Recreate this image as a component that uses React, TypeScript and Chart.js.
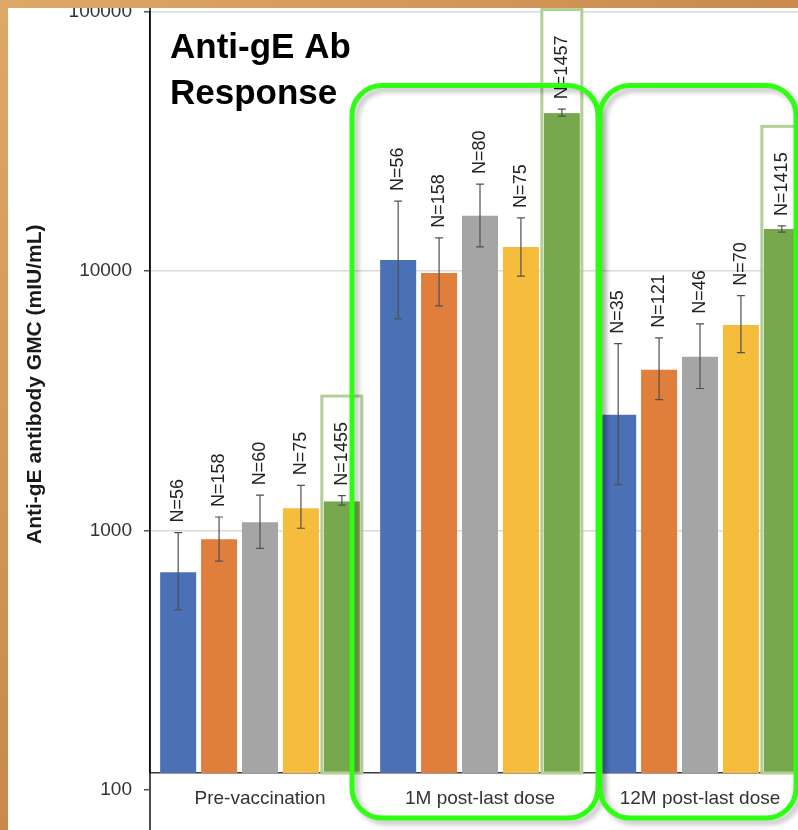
import { useEffect, useRef } from 'react';
import { Chart, registerables } from 'chart.js';

Chart.register(...registerables);

const FONT = '"Liberation Sans", Arial, Helvetica, sans-serif';

const categories = ['Pre-vaccination', '1M post-last dose', '12M post-last dose'];
const seriesNames = ['Group 1', 'Group 2', 'Group 3', 'Group 4', 'Group 5'];
const seriesColors = ['#4a70b6', '#e07e3c', '#a5a5a5', '#f5bd3b', '#78a84e'];

const gmcBlue = [689, 11020, 2790];
const gmcOrange = [923, 9820, 4160];
const gmcGray = [1073, 16300, 4670];
const gmcYellow = [1216, 12360, 6190];
const gmcGreen = [1294, 40550, 14520];

const ciLowBlue = [493, 6530, 1500];
const ciHighBlue = [980, 18580, 5240];
const ciLowOrange = [760, 7330, 3190];
const ciHighOrange = [1125, 13400, 5520];
const ciLowGray = [852, 12360, 3520];
const ciHighGray = [1365, 21600, 6250];
const ciLowYellow = [1018, 9550, 4840];
const ciHighYellow = [1490, 16000, 8020];
const ciLowGreen = [1250, 39500, 14100];
const ciHighGreen = [1360, 42000, 14900];

const nBlue = ['N=56', 'N=56', 'N=35'];
const nOrange = ['N=158', 'N=158', 'N=121'];
const nGray = ['N=60', 'N=80', 'N=46'];
const nYellow = ['N=75', 'N=75', 'N=70'];
const nGreen = ['N=1455', 'N=1457', 'N=1415'];

const yTickValues = [100, 1000, 10000, 100000];
const yTickLabels = ['100', '1000', '10000', '100000'];
const yMin = 116;
const yMax = 100000;
const yTitle = 'Anti-gE antibody GMC (mIU/mL)';
const chartTitle = ['Anti-gE Ab', 'Response'];
const highlightedCategories = [1, 2];

const seriesValues = [gmcBlue, gmcOrange, gmcGray, gmcYellow, gmcGreen];
const ciLow = [ciLowBlue, ciLowOrange, ciLowGray, ciLowYellow, ciLowGreen];
const ciHigh = [ciHighBlue, ciHighOrange, ciHighGray, ciHighYellow, ciHighGreen];
const nLabels = [nBlue, nOrange, nGray, nYellow, nGreen];

const overlayPlugin = {
  id: 'overlay',
  afterDatasetsDraw(chart: any) {
    const ctx = chart.ctx as CanvasRenderingContext2D;
    const ys = chart.scales.y;
    const xs = chart.scales.x;
    const area = chart.chartArea;
    const labelFont = `18px ${FONT}`;
    const gap = 10;

    // light-green highlight boxes around the last series
    const lastIdx = seriesValues.length - 1;
    const lastMeta = chart.getDatasetMeta(lastIdx);
    ctx.save();
    ctx.font = labelFont;
    lastMeta.data.forEach((bar: any, j: number) => {
      const w = bar.width;
      const left = bar.x - w / 2 - 2;
      const right = bar.x + w / 2 + 2;
      const errTop = ys.getPixelForValue(ciHigh[lastIdx][j]);
      const len = ctx.measureText(nLabels[lastIdx][j]).width;
      const boxTop = errTop - gap - len - 26;
      ctx.fillStyle = '#ffffff';
      ctx.fillRect(left, boxTop, right - left, bar.y - boxTop);
      ctx.strokeStyle = '#b2cf96';
      ctx.lineWidth = 3;
      ctx.strokeRect(left, boxTop, right - left, area.bottom - boxTop);
    });
    ctx.restore();

    // error bars
    ctx.save();
    ctx.strokeStyle = '#505050';
    ctx.lineWidth = 1.2;
    seriesValues.forEach((_, i) => {
      const meta = chart.getDatasetMeta(i);
      meta.data.forEach((bar: any, j: number) => {
        const yl = ys.getPixelForValue(ciLow[i][j]);
        const yh = ys.getPixelForValue(ciHigh[i][j]);
        const cap = 4;
        ctx.beginPath();
        ctx.moveTo(bar.x, yl);
        ctx.lineTo(bar.x, yh);
        ctx.moveTo(bar.x - cap, yl);
        ctx.lineTo(bar.x + cap, yl);
        ctx.moveTo(bar.x - cap, yh);
        ctx.lineTo(bar.x + cap, yh);
        ctx.stroke();
      });
    });
    ctx.restore();

    // N labels
    ctx.save();
    ctx.font = labelFont;
    ctx.fillStyle = '#222';
    ctx.textAlign = 'left';
    ctx.textBaseline = 'middle';
    seriesValues.forEach((_, i) => {
      const meta = chart.getDatasetMeta(i);
      meta.data.forEach((bar: any, j: number) => {
        const yh = ys.getPixelForValue(ciHigh[i][j]);
        ctx.save();
        ctx.translate(bar.x, yh - gap);
        ctx.rotate(-Math.PI / 2);
        ctx.fillText(nLabels[i][j], 0, 0);
        ctx.restore();
      });
    });
    ctx.restore();

    // bright green rounded frames
    ctx.save();
    const frames: Record<number, [number, number]> = { 1: [-128, 118], 2: [-100, 96] };
    highlightedCategories.forEach((c) => {
      const cx = xs.getPixelForValue(c);
      const [l, r] = frames[c];
      const x0 = cx + l;
      const x1 = cx + r;
      const y0 = area.top + 74;
      const y1 = area.bottom + 45;
      ctx.shadowColor = 'rgba(0,0,0,0.25)';
      ctx.shadowBlur = 5;
      ctx.shadowOffsetX = 4;
      ctx.shadowOffsetY = 4;
      ctx.strokeStyle = '#2cff10';
      ctx.lineWidth = 5;
      ctx.beginPath();
      (ctx as any).roundRect(x0, y0, x1 - x0, y1 - y0, 30);
      ctx.stroke();
    });
    ctx.restore();

    // full-height y axis line
    ctx.save();
    ctx.strokeStyle = '#111';
    ctx.lineWidth = 1.5;
    ctx.beginPath();
    ctx.moveTo(area.left, 0);
    ctx.lineTo(area.left, chart.height);
    ctx.stroke();
    ctx.restore();

    // chart title
    ctx.save();
    ctx.fillStyle = '#000';
    ctx.font = `bold 35px ${FONT}`;
    ctx.textAlign = 'left';
    ctx.textBaseline = 'alphabetic';
    chartTitle.forEach((line, k) => {
      ctx.fillText(line, area.left + 20, area.top + 47 + k * 46);
    });
    ctx.restore();

    // y axis title
    ctx.save();
    ctx.fillStyle = '#1a1a1a';
    ctx.font = `bold 21px ${FONT}`;
    ctx.textAlign = 'center';
    ctx.textBaseline = 'middle';
    ctx.translate(27, (area.top + area.bottom) / 2 - 8);
    ctx.rotate(-Math.PI / 2);
    ctx.fillText(yTitle, 0, 0);
    ctx.restore();
  },
};

export default function App() {
  const canvasRef = useRef<HTMLCanvasElement | null>(null);

  useEffect(() => {
    document.body.style.margin = '0';
    const canvas = canvasRef.current;
    if (!canvas) return;
    const chart = new Chart(canvas, {
      type: 'bar',
      data: {
        labels: categories,
        datasets: seriesValues.map((vals, i) => ({
          label: seriesNames[i],
          data: vals,
          backgroundColor: seriesColors[i],
          borderWidth: 0,
          barPercentage: 0.88,
          categoryPercentage: 0.93,
        })),
      },
      options: {
        responsive: false,
        animation: false,
        devicePixelRatio: 1,
        layout: { padding: { top: 22, right: 0, left: 0, bottom: 0 } },
        plugins: {
          legend: { display: false },
          tooltip: { enabled: false },
          title: { display: false },
        },
        scales: {
          x: {
            type: 'category',
            offset: true,
            grid: { display: false, drawTicks: false },
            border: { color: '#3a3a3a', width: 1.5 },
            ticks: {
              color: '#333',
              font: { size: 19, family: FONT },
              padding: 14,
              maxRotation: 0,
              autoSkip: false,
            },
            afterFit: (s: any) => {
              s.height = 57;
            },
          },
          y: {
            type: 'logarithmic',
            min: yMin,
            max: yMax,
            afterBuildTicks: (s: any) => {
              s.ticks = yTickValues.map((v) => ({ value: v }));
            },
            ticks: {
              callback: (_v: any, idx: number) => yTickLabels[idx],
              color: '#333',
              font: { size: 19, family: FONT },
              padding: 12,
            },
            grid: {
              color: (c: any) => (c.tick && c.tick.value === 100 ? 'rgba(0,0,0,0)' : '#d9d9d9'),
              tickColor: '#555',
              tickLength: 6,
              drawTicks: true,
              lineWidth: 1.5,
            },
            border: { color: '#000', width: 1.5 },
            afterFit: (s: any) => {
              s.width = 142;
            },
          },
        },
      },
      plugins: [overlayPlugin],
    } as any);
    return () => chart.destroy();
  }, []);

  return (
    <div
      style={{
        position: 'relative',
        width: 798,
        height: 830,
        overflow: 'hidden',
        background: 'linear-gradient(135deg, #dea868 0%, #c98a4c 50%, #b87440 100%)',
      }}
    >
      <div
        style={{
          position: 'absolute',
          left: 8,
          top: 8,
          width: 790,
          height: 822,
          overflow: 'hidden',
          background: '#ffffff',
        }}
      >
        <canvas
          ref={canvasRef}
          width={802}
          height={842}
          style={{ position: 'absolute', left: 0, top: -20, width: 802, height: 842 }}
        />
      </div>
    </div>
  );
}
